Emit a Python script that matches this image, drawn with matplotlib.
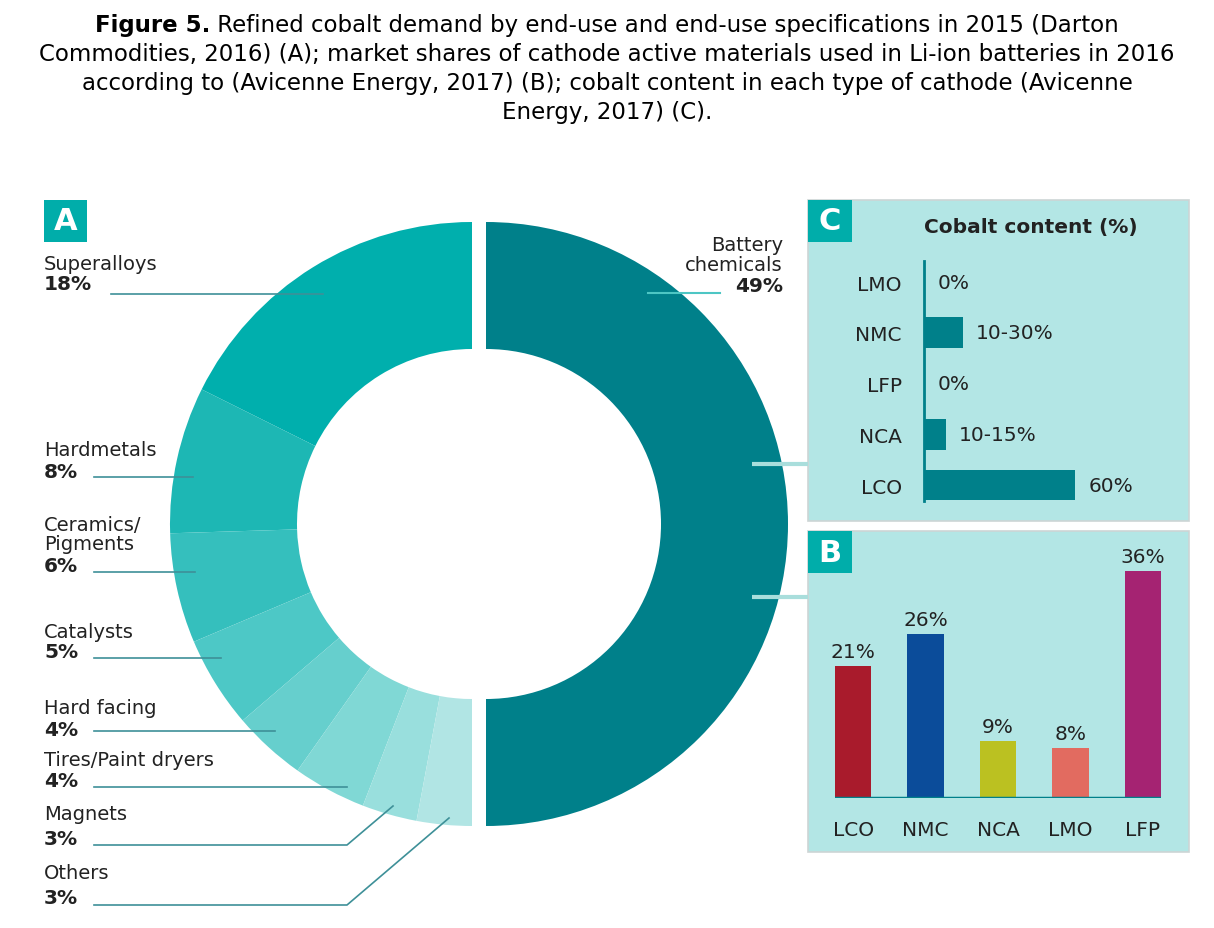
import matplotlib
matplotlib.use("Agg")
import matplotlib.pyplot as plt
from matplotlib.patches import Wedge, Rectangle

W, H = 1214, 929

# panel A: refined cobalt demand by end-use (2015)
end_uses = ["Superalloys", "Hardmetals", "Ceramics/\nPigments", "Catalysts",
            "Hard facing", "Tires/Paint dryers", "Magnets", "Others"]
end_use_share = [18, 8, 6, 5, 4, 4, 3, 3]
battery_name = "Battery\nchemicals"
battery_share = 49

# panel B: market shares of cathode materials (2016)
cathodes_b = ["LCO", "NMC", "NCA", "LMO", "LFP"]
market_share = [21, 26, 9, 8, 36]

# panel C: cobalt content per cathode type
cathodes_c = ["LMO", "NMC", "LFP", "NCA", "LCO"]
cobalt_bar = [0, 15.5, 0, 8.7, 60]
cobalt_labels = ["0%", "10-30%", "0%", "10-15%", "60%"]

END_USE_COLORS = ["#00AFAD", "#1DB7B4", "#35BFBD", "#4DC8C6",
                  "#66CFCD", "#80D8D5", "#99DFDD", "#B1E5E4"]
BATTERY_COLOR = "#00808A"
BAR_COLORS = ["#A91B2C", "#0B4C9A", "#BBC121", "#E26B60", "#A52372"]
PANEL_BG = "#B3E6E5"
TAG_BG = "#00ADAA"
LEAD = "#3E9098"
TXT = "#222222"


def Y(y):
    return H - y


def px_axes(fig, left, top, right, bottom):
    return fig.add_axes([left / W, 1 - bottom / H, (right - left) / W, (bottom - top) / H])


fig = plt.figure(figsize=(W / 100, H / 100), dpi=100)
ax = fig.add_axes([0, 0, 1, 1])
ax.set_xlim(0, W)
ax.set_ylim(0, H)
ax.axis("off")

# title
title_lines = [
    "Commodities, 2016) (A); market shares of cathode active materials used in Li-ion batteries in 2016",
    "according to (Avicenne Energy, 2017) (B); cobalt content in each type of cathode (Avicenne",
    "Energy, 2017) (C).",
]
tfs = 16.5
tb = ax.text(0, Y(25), "Figure 5.", fontsize=tfs, fontweight="bold", va="center", color="black")
tr = ax.text(0, Y(25), " Refined cobalt demand by end-use and end-use specifications in 2015 (Darton",
             fontsize=tfs, va="center", color="black")
rend = fig.canvas.get_renderer()
w1 = tb.get_window_extent(rend).width
w2 = tr.get_window_extent(rend).width
x0 = W / 2 - (w1 + w2) / 2
tb.set_x(x0)
tr.set_x(x0 + w1)
for i, line in enumerate(title_lines):
    ax.text(W / 2, Y(54 + 29 * i), line, fontsize=tfs, ha="center", va="center", color="black")

# donut: left half holds end-uses, right half battery chemicals
cx_left, cx_right, cy = 472, 486, Y(525)
r_out, r_in = 302, 175
total_left = sum(end_use_share)
start = 90.0
for share, col in zip(end_use_share, END_USE_COLORS):
    span = share / total_left * 180.0
    ax.add_patch(Wedge((cx_left, cy), r_out, start, start + span, width=r_out - r_in,
                       facecolor=col, edgecolor="none"))
    start += span
ax.add_patch(Wedge((cx_right, cy), r_out, -90, -90 + battery_share / battery_share * 180.0,
                   width=r_out - r_in, facecolor=BATTERY_COLOR, edgecolor="none"))

# end-use labels with leader lines
name_y = [265, 451, 535, 632, 709, 761, 815, 874]
pct_y = [285, 472, 566, 653, 730, 782, 840, 899]
leader = [
    [(111, 295), (323, 295)],
    [(94, 478), (193, 478)],
    [(94, 573), (195, 573)],
    [(94, 659), (221, 659)],
    [(94, 732), (275, 732)],
    [(94, 788), (347, 788)],
    [(94, 846), (347, 846), (393, 807)],
    [(94, 906), (347, 906), (449, 819)],
]
lfs = 14
for name, share, ny, py, pts in zip(end_uses, end_use_share, name_y, pct_y, leader):
    ax.text(44, Y(ny), name, fontsize=lfs, va="center", ha="left", color=TXT, linespacing=1.05)
    ax.text(44, Y(py), f"{share}%", fontsize=lfs + 0.5, fontweight="bold", va="center", ha="left", color=TXT)
    ax.plot([p[0] for p in pts], [Y(p[1]) for p in pts], color=LEAD, lw=1.2, zorder=3)

ax.text(783, Y(255.5), battery_name, fontsize=lfs, ha="right", va="center", color=TXT, linespacing=1.05)
ax.text(783, Y(286), f"{battery_share}%", fontsize=lfs + 0.5, fontweight="bold", ha="right",
        va="center", color=TXT)
ax.plot([648, 720], [Y(294), Y(294)], color="#4DC6C4", lw=1.5, zorder=3)

# panel tag A
ax.add_patch(Rectangle((44, Y(243)), 43, 42, facecolor=TAG_BG, edgecolor="none"))
ax.text(65.5, Y(222), "A", fontsize=22, fontweight="bold", color="white", ha="center", va="center")

# panel backgrounds
for top, bottom in [(201, 522), (532, 853)]:
    ax.add_patch(Rectangle((808, Y(bottom)), 381, bottom - top, facecolor=PANEL_BG,
                           edgecolor="#cdd5d5", lw=1.2, zorder=1))
for top, tag in [(201, "C"), (532, "B")]:
    ax.add_patch(Rectangle((808, Y(top + 42)), 44, 42, facecolor=TAG_BG, edgecolor="none", zorder=2))
    ax.text(830, Y(top + 21), tag, fontsize=22, fontweight="bold", color="white",
            ha="center", va="center", zorder=3)

# connectors from battery wedge to panels
for yy in [465, 598]:
    ax.plot([752, 808], [Y(yy), Y(yy)], color="#A9DEDC", lw=3, zorder=3, solid_capstyle="butt")

ax.text(1031, Y(228), "Cobalt content (%)", fontsize=14.5, fontweight="bold", ha="center",
        va="center", color=TXT)

pfs = 14.5

# panel C: cobalt content bars
axc = px_axes(fig, 924, 262, 924 + 251.7, 502)
axc.set_facecolor("none")
yc = list(range(len(cathodes_c)))
axc.barh(yc, cobalt_bar, height=0.61, color=BATTERY_COLOR)
axc.set_xlim(0, 100)
axc.set_ylim(4.315, -0.414)
for yi, v, lbl in zip(yc, cobalt_bar, cobalt_labels):
    axc.annotate(lbl, (v, yi), xytext=(9.5, 0), textcoords="offset points",
                 va="center", ha="left", fontsize=pfs, color=TXT)
axc.set_yticks(yc)
axc.set_yticklabels(cathodes_c, fontsize=pfs, color=TXT)
axc.tick_params(axis="y", length=0, pad=16)
axc.set_xticks([])
for s in ["top", "right", "bottom"]:
    axc.spines[s].set_visible(False)
axc.spines["left"].set_color(BATTERY_COLOR)
axc.spines["left"].set_linewidth(2)

# panel B: market share bars
axb = px_axes(fig, 835, 547, 1161, 799)
axb.set_facecolor("none")
xb = list(range(len(cathodes_b)))
axb.bar(xb, market_share, width=0.5, color=BAR_COLORS)
axb.set_xlim(-0.25, 4.25)
axb.set_ylim(0, 40)
axb.axhline(0, color=BATTERY_COLOR, lw=2.5)
for xi, v in zip(xb, market_share):
    axb.annotate(f"{v}%", (xi, v), xytext=(0, 3.5), textcoords="offset points",
                 ha="center", va="bottom", fontsize=pfs, color=TXT)
axb.set_xticks(xb)
axb.set_xticklabels(cathodes_b, fontsize=pfs, color=TXT)
axb.tick_params(axis="x", length=0, pad=16)
axb.set_yticks([])
for s in axb.spines.values():
    s.set_visible(False)

fig.savefig("out.png", dpi=100, facecolor="white")
